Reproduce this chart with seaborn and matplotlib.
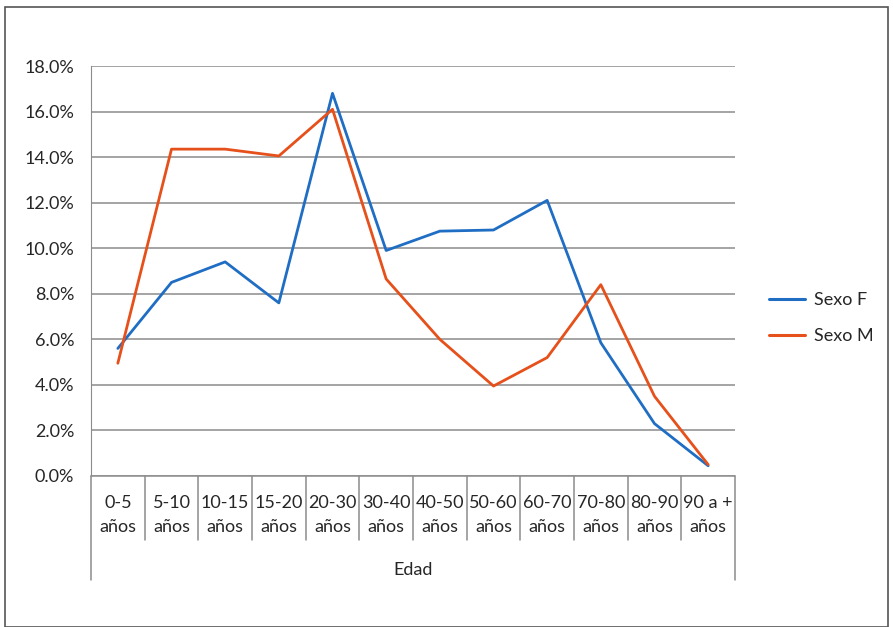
import pandas as pd
import matplotlib.pyplot as plt
import seaborn as sns
from matplotlib.patches import Rectangle
from matplotlib.ticker import PercentFormatter

# Datos (porcentaje por grupo de edad)
edades = ['0-5', '5-10', '10-15', '15-20', '20-30', '30-40',
          '40-50', '50-60', '60-70', '70-80', '80-90', '90 a +']
sexo_f = [5.6, 8.5, 9.4, 7.6, 16.8, 9.9, 10.75, 10.8, 12.1, 5.85, 2.3, 0.45]
sexo_m = [4.95, 14.35, 14.35, 14.05, 16.1, 8.65, 6.0, 3.95, 5.2, 8.4, 3.5, 0.5]
series = ['Sexo F', 'Sexo M']
colores = ['#1f6ec4', '#e6501b']

df = pd.DataFrame({
    'Edad': edades * 2,
    'pos': list(range(len(edades))) * 2,
    'valor': sexo_f + sexo_m,
    'Serie': [series[0]] * len(edades) + [series[1]] * len(edades),
})

sns.set_style('white')
plt.rcParams['font.family'] = ['Lato', 'DejaVu Sans']

fig = plt.figure(figsize=(8.93, 6.27), dpi=100)
ax = fig.add_axes([91 / 893, 1 - 476 / 627, 644 / 893, 410 / 627])

sns.lineplot(data=df, x='pos', y='valor', hue='Serie', palette=colores,
             linewidth=2.0, ax=ax, legend=False)

ax.set_xlim(-0.5, len(edades) - 0.5)
ax.set_ylim(0, 18)
ax.set_yticks(range(0, 19, 2))
ax.yaxis.set_major_formatter(PercentFormatter(decimals=1))
ax.grid(axis='y', color='#8c8c8c', linewidth=1.1)
ax.set_axisbelow(True)
for s in ['top', 'right', 'bottom']:
    ax.spines[s].set_visible(False)
ax.spines['left'].set_color('#8c8c8c')
ax.tick_params(axis='y', length=8, color='#8c8c8c', labelsize=13, pad=4)
ax.set_xticks([])
ax.set_xlabel('')
ax.set_ylabel('')

# Eje de categorías tipo Excel
trans = ax.get_xaxis_transform()
ax.plot([-0.5, len(edades) - 0.5], [0, 0], color='#8c8c8c', lw=1.1,
        transform=trans, clip_on=False)
for i in range(len(edades) + 1):
    x = i - 0.5
    bajo = -104 / 410 if i in (0, len(edades)) else -64 / 410
    ax.plot([x, x], [0, bajo], color='#8c8c8c', lw=1.1, transform=trans, clip_on=False)
for i, e in enumerate(edades):
    ax.text(i, -27 / 410, e, transform=trans, ha='center', va='center', fontsize=13)
    ax.text(i, -51 / 410, 'años', transform=trans, ha='center', va='center', fontsize=13)
ax.text(0.5, -94 / 410, 'Edad', transform=ax.transAxes, ha='center', va='center', fontsize=13)

# Leyenda
handles = [plt.Line2D([], [], color=c, lw=2.2) for c in colores]
fig.legend(handles, series, loc='center left', bbox_to_anchor=(753 / 893, 1 - 318 / 627),
           frameon=False, fontsize=13, handlelength=2.0, handletextpad=0.5,
           labelspacing=1.1)

# Marco exterior
fig.patches.append(Rectangle((5 / 893, 0), 883 / 893, 620 / 627, transform=fig.transFigure,
                             fill=False, edgecolor='#555555', lw=1.2))

fig.savefig('out.png', dpi=100)
